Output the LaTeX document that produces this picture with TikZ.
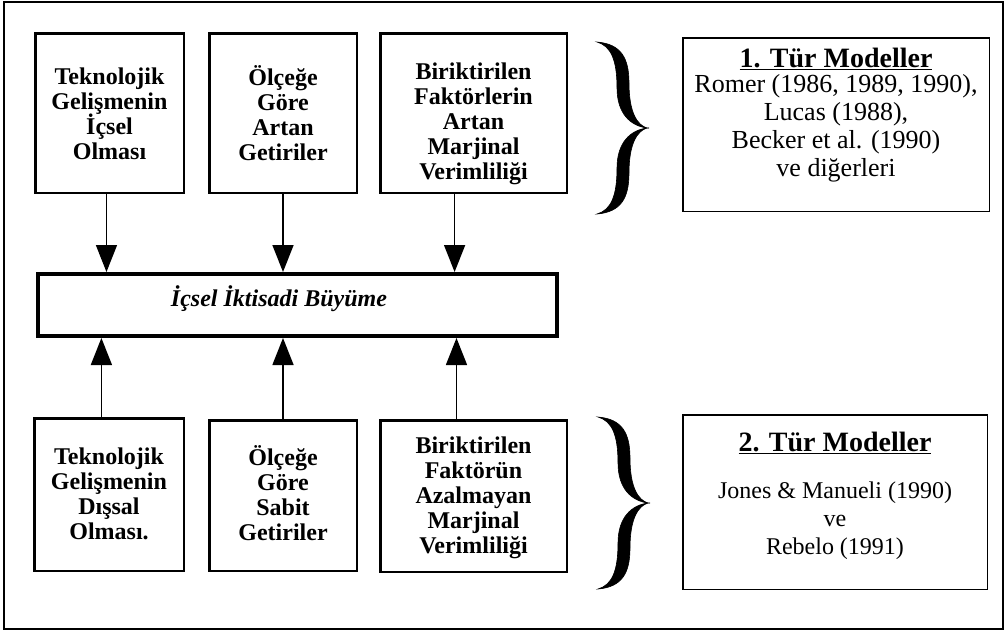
\documentclass[tikz,border=0pt]{standalone}
\usepackage{fontspec}
\setmainfont{Liberation Serif}
\usetikzlibrary{arrows.meta,calc}
\newcommand\boxlines[2]{\raisebox{#1}[\height][\depth]{\begin{tabular}{@{}c@{}}#2\end{tabular}}}
\begin{document}
\begin{tikzpicture}[x=1pt,y=-1pt,
  frame/.style={draw, line width=2pt},
  tbox/.style={draw, line width=2.5pt, inner sep=0pt,
    font=\fontsize{24}{25}\selectfont\bfseries},
  cbox/.style={draw, line width=4pt, inner sep=0pt,
    font=\fontsize{24}{25}\selectfont\bfseries\itshape},
  rbox/.style={draw, line width=1.5pt},
  rtext/.style={align=center, inner sep=0pt, anchor=north},
  arr/.style={line width=1.5pt, -{Triangle[length=27pt,width=21pt]}},
  bracepic/.pic={
    \filldraw[line width=0.6pt]
      (-50,-86) .. controls (-26,-84) and (-18,-70) .. (-18,-45)
      .. controls (-18,-16) and (-10,-3) .. (0,0)
      .. controls (-16,-2) and (-30,-14) .. (-30,-40)
      .. controls (-30,-68) and (-36,-82) .. (-50,-86) -- cycle;
    \filldraw[line width=0.6pt]
      (-50,86) .. controls (-26,84) and (-18,70) .. (-18,45)
      .. controls (-18,16) and (-10,3) .. (0,0)
      .. controls (-16,2) and (-30,14) .. (-30,40)
      .. controls (-30,68) and (-36,82) .. (-50,86) -- cycle;
  }
]
\useasboundingbox (0,0) rectangle (1006,633);
\draw[frame] (4,2) rectangle (1003,629);

% top boxes
\node[tbox, minimum width=148.5pt, minimum height=159.5pt] (t1) at (109.5,113)
  {\boxlines{-4pt}{Teknolojik\\Gelişmenin\\\smash{İçsel}\\Olması}};
\node[tbox, minimum width=147.5pt, minimum height=159.5pt] (t2) at (283,113)
  {\boxlines{-5pt}{\smash{Ölçeğe}\\Göre\\Artan\\Getiriler}};
\node[tbox, minimum width=186.5pt, minimum height=159.5pt] (t3) at (473.5,113)
  {\boxlines{-11pt}{Biriktirilen\\Faktörlerin\\Artan\\Marjinal\\Verimliliği}};

% central box
\node[cbox, minimum width=519pt, minimum height=62pt] (c) at (297.5,305)
  {\raisebox{6pt}[\height][\depth]{İçsel İktisadi Büyüme}\hspace*{37pt}};

% bottom boxes
\node[tbox, minimum width=149.5pt, minimum height=152.5pt] (b1) at (109,494.5)
  {\boxlines{-2pt}{Teknolojik\\Gelişmenin\\Dışsal\\Olması.}};
\node[tbox, minimum width=147.5pt, minimum height=150.5pt] (b2) at (283,495.5)
  {\boxlines{-2pt}{\smash{Ölçeğe}\\Göre\\Sabit\\Getiriler}};
\node[tbox, minimum width=186.5pt, minimum height=151.5pt] (b3) at (473.5,496)
  {\boxlines{-2pt}{Biriktirilen\\Faktörün\\Azalmayan\\Marjinal\\Verimliliği}};

% arrows down
\coordinate (a1) at ($(t1.south west)!0.48!(t1.south east)$);
\coordinate (a2) at ($(t2.south west)!0.5!(t2.south east)$);
\coordinate (a3) at ($(t3.south west)!0.40!(t3.south east)$);
\draw[arr] (a1) -- (a1 |- c.north);
\draw[arr] (a2) -- (a2 |- c.north);
\draw[arr] (a3) -- (a3 |- c.north);

% arrows up
\coordinate (d1) at ($(b1.north west)!0.45!(b1.north east)$);
\coordinate (d2) at ($(b2.north west)!0.5!(b2.north east)$);
\coordinate (d3) at ($(b3.north west)!0.41!(b3.north east)$);
\draw[arr] (d1) -- (d1 |- c.south);
\draw[arr] (d2) -- (d2 |- c.south);
\draw[arr] (d3) -- (d3 |- c.south);

% braces
\pic at (647,128) {bracepic};
\pic at (648,503) {bracepic};

% right boxes
\node[rbox, minimum width=306.5pt, minimum height=173.5pt] (r1) at (836,124.5) {};
\node[rtext, font=\fontsize{26}{28}\selectfont] (r1t) at (836,48)
  {{\fontsize{28}{28}\selectfont\bfseries\underline{1. Tür Modeller}}\\[-3pt]
   Romer (1986, 1989, 1990),\\Lucas (1988),\\Becker et al. (1990)\\ve diğerleri};

\node[rbox, minimum width=304.5pt, minimum height=174.5pt] (r2) at (835,502) {};
\node[rtext, font=\fontsize{24}{28}\selectfont] (r2t) at (835,432)
  {{\fontsize{28}{28}\selectfont\bfseries\underline{2. Tür Modeller}}\\[19pt]
   Jones \& Manueli (1990)\\ve\\Rebelo (1991)};
\end{tikzpicture}
\end{document}
